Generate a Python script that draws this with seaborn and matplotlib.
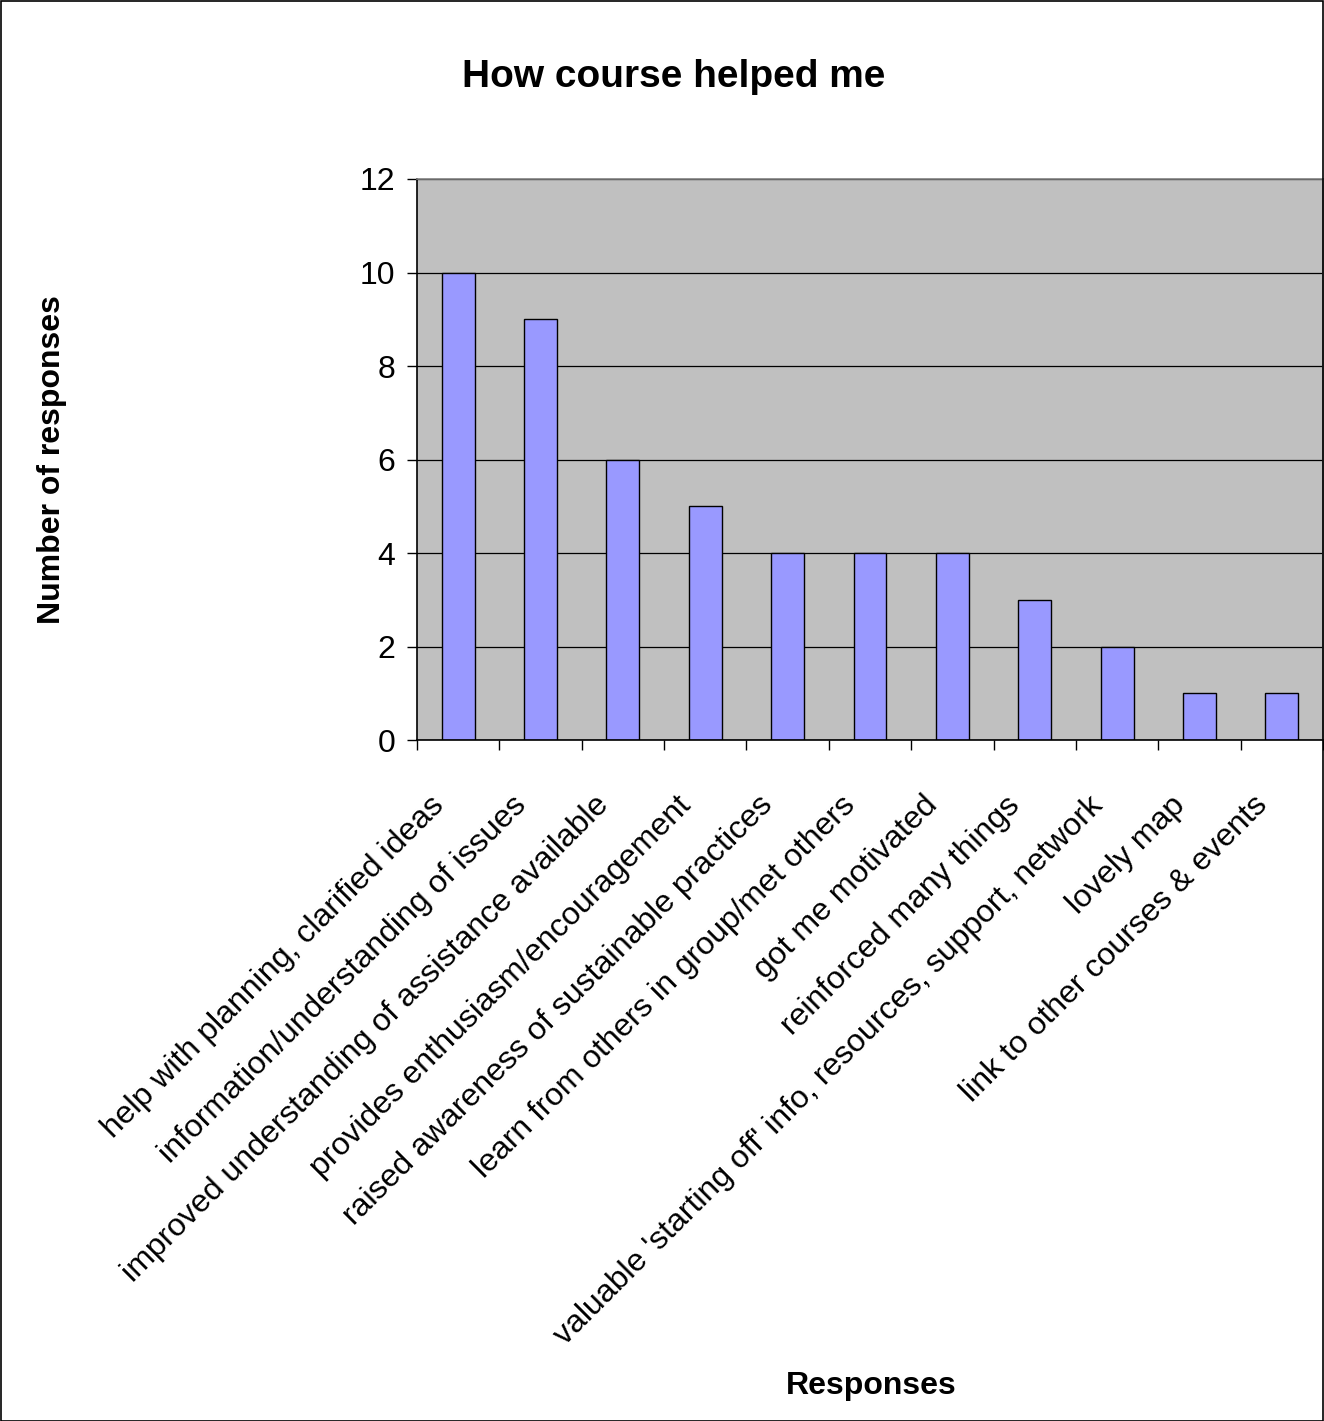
import matplotlib
matplotlib.use("Agg")
import matplotlib.pyplot as plt
import matplotlib.transforms as mtransforms
import seaborn as sns
import pandas as pd
from matplotlib.patches import Rectangle

categories = [
    "help with planning, clarified ideas",
    "information/understanding of issues",
    "improved understanding of assistance available",
    "provides enthusiasm/encouragement",
    "raised awareness of sustainable practices",
    "learn from others in group/met others",
    "got me motivated",
    "reinforced many things",
    "valuable 'starting off' info, resources, support, network",
    "lovely map",
    "link to other courses & events",
]
values = [10, 9, 6, 5, 4, 4, 4, 3, 2, 1, 1]
yticks = [0, 2, 4, 6, 8, 10, 12]

sns.set_style("white")
plt.rcParams['font.family'] = ['Liberation Sans', 'DejaVu Sans']
plt.rcParams['text.color'] = 'black'

df = pd.DataFrame({"cat": categories, "val": values})

fig = plt.figure(figsize=(13.24, 14.21), dpi=100)
ax = fig.add_axes([417/1324, 1 - 740/1421, (1323 - 417)/1324, (740 - 179)/1421])
ax.set_facecolor("#C0C0C0")

sns.barplot(data=df, x="cat", y="val", ax=ax, color="#9999FF",
            edgecolor="black", linewidth=1, width=0.4, saturation=1)

ax.set_ylim(0, 12)
ax.set_xlim(-0.5, len(categories) - 0.5)
ax.set_yticks(yticks)
ax.set_yticklabels([str(t) for t in yticks], fontsize=23, color="black")
for t in yticks:
    ax.axhline(t, color="black", linewidth=0.9, zorder=0.5)
ax.set_axisbelow(True)

ax.set_xticks(range(len(categories)))
ax.set_xticklabels(categories, rotation=45, ha="right", va="center",
                   rotation_mode="anchor", fontsize=23, color="black")
ax.tick_params(axis="x", which="major", length=0, pad=0, bottom=True)
offset = mtransforms.ScaledTranslation(-19/100, -61/100, fig.dpi_scale_trans)
for lab in ax.get_xticklabels():
    lab.set_transform(lab.get_transform() + offset)
ax.set_xticks([i - 0.5 for i in range(len(categories) + 1)], minor=True)
ax.tick_params(axis="x", which="minor", length=7.5, width=1, color="black",
               direction="out", bottom=True)
ax.tick_params(axis="y", length=7.5, width=1, color="black", direction="out",
               pad=8, left=True)
for s in ax.spines.values():
    s.set_color("#808080")
    s.set_linewidth(1.2)
ax.spines["left"].set_color("black")
ax.spines["bottom"].set_color("black")

ax.set_xlabel("")
ax.set_ylabel("")

fig.text(674/1324, 1 - 77/1421, "How course helped me", fontsize=28, fontweight="bold",
         ha="center", va="center")
fig.text(52/1324, 1 - 460/1421, "Number of responses", fontsize=23, fontweight="bold",
         ha="center", va="center", rotation=90)
fig.text(871/1324, 1 - 1386/1421, "Responses", fontsize=23, fontweight="bold",
         ha="center", va="center")

fig.patches.append(Rectangle((0.5/1324, 0.5/1421), 1 - 1.5/1324, 1 - 1.5/1421,
                             transform=fig.transFigure, fill=False,
                             edgecolor="black", linewidth=1.2))

fig.savefig("out.png", dpi=100)
